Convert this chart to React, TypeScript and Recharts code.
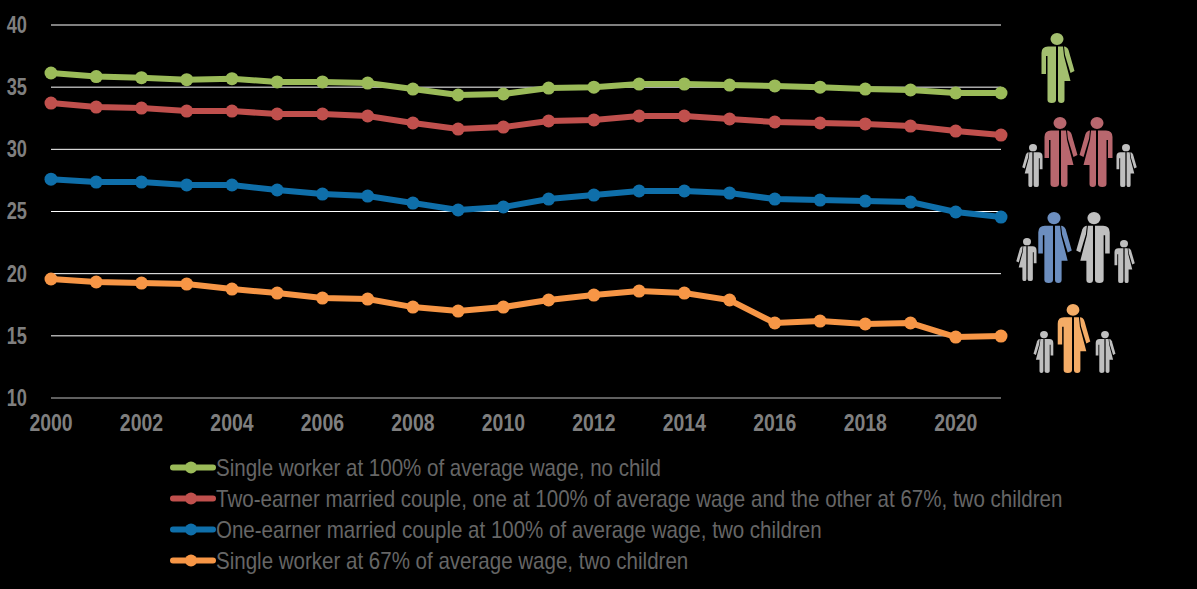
import React from "react";
import { LineChart, Line, XAxis, YAxis, CartesianGrid, Legend } from "recharts";

const years = [2000,2001,2002,2003,2004,2005,2006,2007,2008,2009,2010,2011,2012,2013,2014,2015,2016,2017,2018,2019,2020,2021];
const singleNoChild = [36.14,35.85,35.76,35.6,35.68,35.42,35.42,35.33,34.85,34.37,34.45,34.93,35.0,35.25,35.25,35.17,35.1,35.0,34.85,34.77,34.53,34.53];
const twoEarner = [33.72,33.4,33.32,33.08,33.08,32.84,32.84,32.68,32.12,31.63,31.79,32.28,32.36,32.68,32.68,32.44,32.2,32.12,32.04,31.87,31.47,31.15];
const oneEarner = [27.6,27.37,27.37,27.13,27.13,26.73,26.4,26.24,25.68,25.12,25.36,26.0,26.32,26.65,26.65,26.48,26.0,25.92,25.84,25.76,24.96,24.55];
const singleTwoChildren = [19.57,19.33,19.24,19.16,18.76,18.44,18.04,17.96,17.31,16.99,17.31,17.88,18.28,18.6,18.44,17.88,16.03,16.19,15.95,16.03,14.9,14.98];
const yTicks = [10,15,20,25,30,35,40];
const gridValues = [15,20,25,30,35,40];

const names = [
  "Single worker at 100% of average wage, no child",
  "Two-earner married couple, one at 100% of average wage and the other at 67%, two children",
  "One-earner married couple at 100% of average wage, two children",
  "Single worker at 67% of average wage, two children",
];
const colors = ["#9BBB59", "#C0504D", "#0F6FAA", "#F79646"];
const seriesValues = [singleNoChild, twoEarner, oneEarner, singleTwoChildren];
const data = years.map((y, i) => ({ year: y, s0: seriesValues[0][i], s1: seriesValues[1][i], s2: seriesValues[2][i], s3: seriesValues[3][i] }));

const FONT = "'Liberation Sans', Arial, sans-serif";
const GRAY = "#7F7F7F";
const ICON_GREEN = "#A3BF6F", ICON_RED = "#B8676E", ICON_BLUE = "#6C8EBF", ICON_ORANGE = "#F4AC66";

function XTick({ x, y, payload }: any) {
  return (
    <text transform={`translate(${x} ${y + 23}) scale(0.81 1)`} textAnchor="middle" dominantBaseline="central"
      fontFamily={FONT} fontSize={24} fontWeight={700} fill={GRAY}>{payload.value}</text>
  );
}
function YTick({ y, payload }: any) {
  return (
    <text transform={`translate(27 ${y}) scale(0.76 1)`} textAnchor="end" dominantBaseline="central"
      fontFamily={FONT} fontSize={24} fontWeight={700} fill={GRAY}>{payload.value}</text>
  );
}

function Person({ cx, top, bottom, color, flip }: { cx: number; top: number; bottom: number; color: string; flip?: boolean }) {
  const s = (bottom - top) / 70;
  return (
    <g transform={`translate(${cx} ${top}) scale(${flip ? -s : s} ${s})`} fill={color}>
      <ellipse cx={0} cy={6} rx={6.5} ry={6} />
      <path d="M-1 13.5 L-9 13.5 Q-15.5 13.5 -15.5 20 L-15.5 41 L-11 41 L-11 23 L-9.5 23 L-9.5 67 Q-9.5 70 -5.3 70 Q-1 70 -1 67 Z" />
      <path d="M1 13.5 L6 13.5 L7 23 L13.5 48 L7.5 48 L7.5 67 Q7.5 70 4.3 70 Q1 70 1 67 Z" />
      <path d="M7 13.5 Q10 13.5 11.5 17 L17.5 38 L13.5 40 L8 22 Z" />
    </g>
  );
}

const G = "#BFBFBF";
function Icons() {
  return (
    <svg width={1197} height={589} style={{ position: "absolute", left: 0, top: 0, pointerEvents: "none" }}>
      <Person cx={1057} top={33} bottom={103} color={ICON_GREEN} />
      <Person cx={1060} top={117} bottom={187} color={ICON_RED} />
      <Person cx={1097} top={117} bottom={187} color={ICON_RED} flip />
      <Person cx={1033} top={144} bottom={187} color={G} flip />
      <Person cx={1126} top={144} bottom={187} color={G} />
      <Person cx={1054} top={212} bottom={283} color={ICON_BLUE} />
      <Person cx={1094} top={212} bottom={283} color={G} flip />
      <Person cx={1027} top={238} bottom={281} color={G} flip />
      <Person cx={1124} top={240} bottom={283} color={G} />
      <Person cx={1073} top={304} bottom={373} color={ICON_ORANGE} />
      <Person cx={1044} top={331} bottom={373} color={G} flip />
      <Person cx={1105} top={331} bottom={373} color={G} />
    </svg>
  );
}

function LegendBox() {
  return (
    <div style={{ fontFamily: FONT, fontSize: 24, color: "#666666", lineHeight: "31px", whiteSpace: "nowrap" }}>
      {names.map((n, i) => (
        <div key={n} style={{ height: 31, display: "flex", alignItems: "center" }}>
          <svg width={46} height={31} style={{ flex: "none" }}>
            <line x1={3} x2={43} y1={15.5} y2={15.5} stroke={colors[i]} strokeWidth={6} strokeLinecap="round" />
            <circle cx={21} cy={15.5} r={6} fill={colors[i]} />
          </svg>
          <span style={{ display: "inline-block", transform: "scaleX(0.855)", transformOrigin: "left center" }}>{n}</span>
        </div>
      ))}
    </div>
  );
}

export default function App() {
  return (
    <div style={{ position: "absolute", left: 0, top: 0, width: 1197, height: 589, background: "#000", overflow: "hidden" }}>
      <LineChart width={1197} height={589} data={data} margin={{ top: 25, right: 196, bottom: 161, left: 0 }}>
        <CartesianGrid horizontal vertical={false} stroke="#FFFFFF" strokeWidth={1} horizontalValues={gridValues} />
        <XAxis dataKey="year" scale="point" padding={{ left: 0, right: 0 }} interval={1} axisLine={{ stroke: "#BFBFBF", strokeWidth: 1 }} tickLine={false} tickSize={0} height={30} tick={<XTick />} />
        <YAxis type="number" domain={[10, 40]} ticks={yTicks} width={51} axisLine={false} tickLine={false} tick={<YTick />} />
        <Legend layout="horizontal" verticalAlign="middle" content={() => <LegendBox />} wrapperStyle={{ left: 170, top: 452, width: 950, bottom: "auto" }} />
        {names.map((n, i) => (
          <Line key={n} dataKey={`s${i}`} name={n} stroke={colors[i]} strokeWidth={6} isAnimationActive={false}
            dot={{ r: 6.5, fill: colors[i], stroke: colors[i], strokeWidth: 0 }} activeDot={false} />
        ))}
      </LineChart>
      <Icons />
    </div>
  );
}
